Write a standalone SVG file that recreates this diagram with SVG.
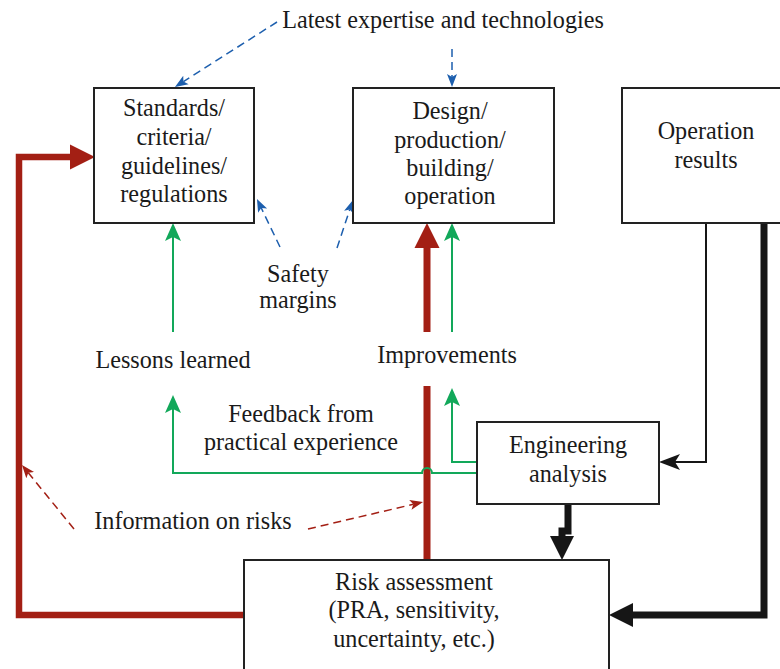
<svg xmlns="http://www.w3.org/2000/svg" width="780" height="669" viewBox="0 0 780 669">
<style>
text{font-family:"Liberation Serif","Times New Roman",serif;font-size:24.2px;fill:#1a1a1a;text-anchor:middle}
.box{fill:#fff;stroke:#222;stroke-width:2}
.red{fill:none;stroke:#a31f14}
.grn{fill:none;stroke:#12a85a;stroke-width:2}
.blk{fill:none;stroke:#161616}
.bdash{fill:none;stroke:#1d5fae;stroke-width:1.5;stroke-dasharray:8 5}
.rdash{fill:none;stroke:#a31f14;stroke-width:1.5;stroke-dasharray:8 5}
</style>
<defs>
<marker id="mRed" markerUnits="userSpaceOnUse" viewBox="0 -13 25 26" refX="0" refY="0" markerWidth="25" markerHeight="26" orient="auto"><path d="M0,-12.5 L25,0 L0,12.5 z" fill="#a31f14"/></marker>
<marker id="mBlk" markerUnits="userSpaceOnUse" viewBox="0 -13 25 26" refX="0" refY="0" markerWidth="25" markerHeight="26" orient="auto"><path d="M0,-12 L24,0 L0,12 z" fill="#161616"/></marker>
<marker id="mBlkThin" markerUnits="userSpaceOnUse" viewBox="0 -9 22 18" refX="5" refY="0" markerWidth="22" markerHeight="18" orient="auto"><path d="M0,-8 L21,0 L0,8 L5,0 z" fill="#161616"/></marker>
<marker id="mGrn" markerUnits="userSpaceOnUse" viewBox="0 -9 19 18" refX="4" refY="0" markerWidth="19" markerHeight="18" orient="auto"><path d="M0,-8 L18,0 L0,8 L4,0 z" fill="#12a85a"/></marker>
<marker id="mBlue" markerUnits="userSpaceOnUse" viewBox="0 -6 14 12" refX="3" refY="0" markerWidth="14" markerHeight="12" orient="auto"><path d="M0,-5 L13,0 L0,5 L3,0 z" fill="#1d5fae"/></marker>
<marker id="mRedS" markerUnits="userSpaceOnUse" viewBox="0 -6 14 12" refX="3" refY="0" markerWidth="14" markerHeight="12" orient="auto"><path d="M0,-5 L13,0 L0,5 L3,0 z" fill="#a31f14"/></marker>
</defs>

<g id="connectors">
<path class="red" stroke-width="6.5" d="M244,615 H19 V157 H70" marker-end="url(#mRed)"/>
<path class="red" stroke-width="7" d="M427,332 V248" marker-end="url(#mRed)"/>
<path class="red" stroke-width="7" d="M427,386 V560"/>
<path class="grn" d="M173,332 V237" marker-end="url(#mGrn)"/>
<path class="grn" d="M452,332 V237" marker-end="url(#mGrn)"/>
<path class="grn" d="M477,473 H432 A5,5 0 0 0 422,473 H173 V409" marker-end="url(#mGrn)"/>
<path class="grn" d="M477,462 H452 V402" marker-end="url(#mGrn)"/>
<path class="blk" stroke-width="2" d="M706,223 V462 H675" marker-end="url(#mBlkThin)"/>
<path class="blk" stroke-width="7" d="M764,220 V615 H633" marker-end="url(#mBlk)"/>
<path class="blk" stroke-width="7" stroke-linejoin="miter" d="M568,504 V531 H562 V536" marker-end="url(#mBlk)"/>
<path class="bdash" d="M277,22 L183.4,81.6" marker-end="url(#mBlue)"/>
<path class="bdash" d="M452,49 V77" marker-end="url(#mBlue)"/>
<path class="bdash" d="M280,247 L261.3,208" marker-end="url(#mBlue)"/>
<path class="bdash" d="M337,248 L349.8,209.5" marker-end="url(#mBlue)"/>
<path class="rdash" d="M74,529 L28.3,472.8" marker-end="url(#mRedS)"/>
<path class="rdash" d="M308,529 L413.3,504.3" marker-end="url(#mRedS)"/>
</g>

<g id="standards">
<rect class="box" x="94" y="88" width="160" height="135"/>
<text x="174" y="116">Standards/</text>
<text x="174" y="145">criteria/</text>
<text x="174" y="174">guidelines/</text>
<text x="174" y="202">regulations</text>
</g>
<g id="design">
<rect class="box" x="353" y="88" width="201" height="135"/>
<text x="450" y="119">Design/</text>
<text x="450" y="148">production/</text>
<text x="450" y="176">building/</text>
<text x="450" y="204">operation</text>
</g>
<g id="operation">
<rect class="box" x="622" y="88" width="170" height="135"/>
<text x="706" y="139">Operation</text>
<text x="706" y="168">results</text>
</g>
<g id="engineering">
<rect class="box" x="477" y="422" width="182" height="82"/>
<text x="568" y="453">Engineering</text>
<text x="568" y="482">analysis</text>
</g>
<g id="risk">
<rect class="box" x="244" y="560" width="365" height="120"/>
<text x="414" y="590">Risk assessment</text>
<text x="414" y="618">(PRA, sensitivity,</text>
<text x="414" y="647">uncertainty, etc.)</text>
</g>
<g id="labels">
<text x="443" y="28">Latest expertise and technologies</text>
<text x="298" y="282">Safety</text>
<text x="298" y="308">margins</text>
<text x="173" y="368">Lessons learned</text>
<text x="447" y="363">Improvements</text>
<text x="301" y="422">Feedback from</text>
<text x="301" y="450">practical experience</text>
<text x="193" y="529">Information on risks</text>
</g>
</svg>
